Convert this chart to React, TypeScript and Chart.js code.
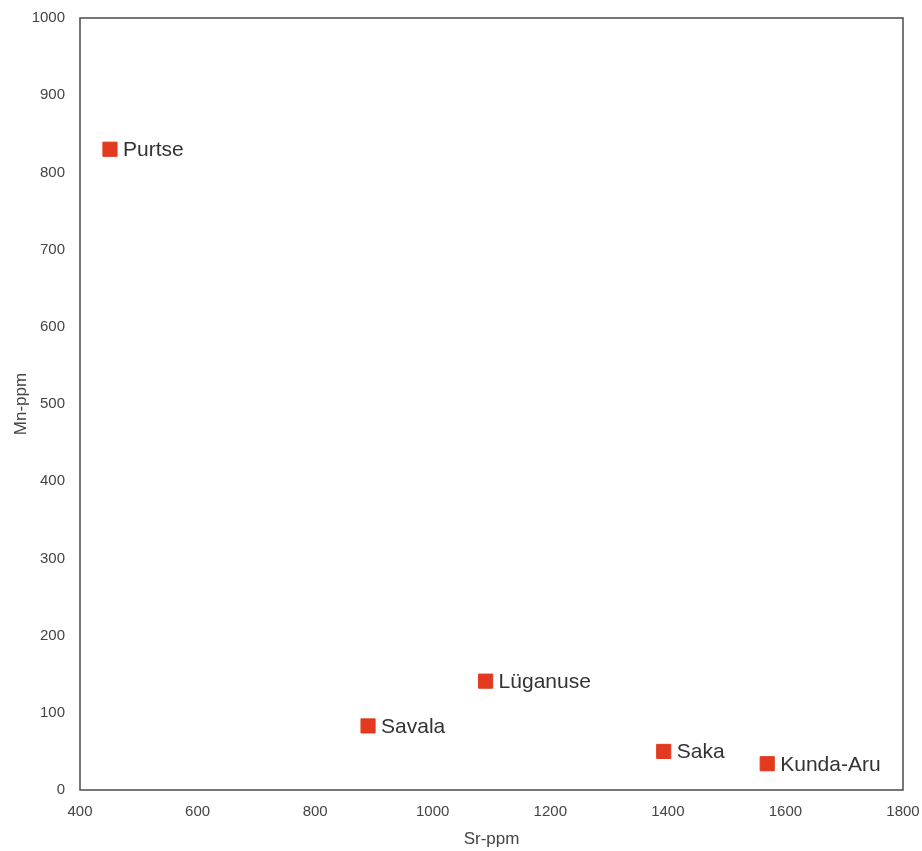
import React, { useEffect, useRef } from "react";
import { Chart, registerables } from "chart.js";

Chart.register(...registerables);

const sites = ["Purtse", "Savala", "Lüganuse", "Saka", "Kunda-Aru"];
const srPpm = [451, 890, 1090, 1393, 1569];
const mnPpm = [830, 83, 141, 50, 34];

const xTitle = "Sr-ppm";
const yTitle = "Mn-ppm";

const FONT = "'Liberation Sans', Arial, sans-serif";

const labelPlugin = {
  id: "pointLabels",
  afterDatasetsDraw(chart: any) {
    const ctx = chart.ctx;
    const meta = chart.getDatasetMeta(0);
    ctx.save();
    ctx.font = `21px ${FONT}`;
    ctx.fillStyle = "#333333";
    ctx.textAlign = "left";
    ctx.textBaseline = "middle";
    meta.data.forEach((pt: any, i: number) => {
      ctx.fillText(sites[i], pt.x + 13, pt.y + 1);
    });
    ctx.restore();
  },
};

const boxPlugin = {
  id: "boxBorder",
  beforeDatasetsDraw(chart: any) {
    const { ctx, chartArea } = chart;
    ctx.save();
    ctx.strokeStyle = "#555555";
    ctx.lineWidth = 1.6;
    ctx.strokeRect(
      chartArea.left,
      chartArea.top,
      chartArea.right - chartArea.left,
      chartArea.bottom - chartArea.top
    );
    ctx.restore();
  },
};

export default function App() {
  const ref = useRef<HTMLCanvasElement | null>(null);

  useEffect(() => {
    if (!ref.current) return;
    const chart = new Chart(ref.current, {
      type: "scatter",
      data: {
        datasets: [
          {
            label: "sites",
            data: srPpm.map((x, i) => ({ x, y: mnPpm[i] })),
            pointStyle: "rect",
            pointRadius: 10,
            pointBackgroundColor: "#e2391f",
            pointBorderColor: "#e2391f",
            pointBorderWidth: 1,
          },
        ],
      },
      options: {
        animation: false,
        responsive: false,
        maintainAspectRatio: false,
        layout: { padding: { left: 7, right: 19, top: 18, bottom: 0 } },
        plugins: {
          legend: { display: false },
          tooltip: { enabled: false },
        },
        scales: {
          x: {
            type: "linear",
            min: 400,
            max: 1800,
            grid: { display: false, drawTicks: false },
            border: { display: false },
            ticks: {
              stepSize: 200,
              padding: 13,
              color: "#444444",
              font: { family: FONT, size: 15 },
              callback: (v: any) => String(v),
            },
            title: {
              display: true,
              text: xTitle,
              color: "#444444",
              font: { family: FONT, size: 17 },
              padding: { top: 4, bottom: 1 },
            },
            afterFit(scale: any) {
              scale.height = 61;
              scale.paddingLeft = 0;
              scale.paddingRight = 0;
            },
          },
          y: {
            type: "linear",
            min: 0,
            max: 1000,
            grid: { display: false, drawTicks: false },
            border: { display: false },
            ticks: {
              stepSize: 100,
              padding: 15,
              color: "#444444",
              font: { family: FONT, size: 15 },
              callback: (v: any) => String(v),
            },
            title: {
              display: true,
              text: yTitle,
              color: "#444444",
              font: { family: FONT, size: 17 },
              padding: { top: 4, bottom: 4 },
            },
            afterFit(scale: any) {
              scale.width = 73;
              scale.paddingTop = 0;
              scale.paddingBottom = 0;
            },
          },
        },
      },
      plugins: [boxPlugin, labelPlugin],
    });
    return () => chart.destroy();
  }, []);

  return (
    <div
      style={{
        position: "absolute",
        left: 0,
        top: 0,
        width: 922,
        height: 851,
        background: "#ffffff",
      }}
    >
      <canvas ref={ref} width={922} height={851} style={{ width: 922, height: 851 }} />
    </div>
  );
}
